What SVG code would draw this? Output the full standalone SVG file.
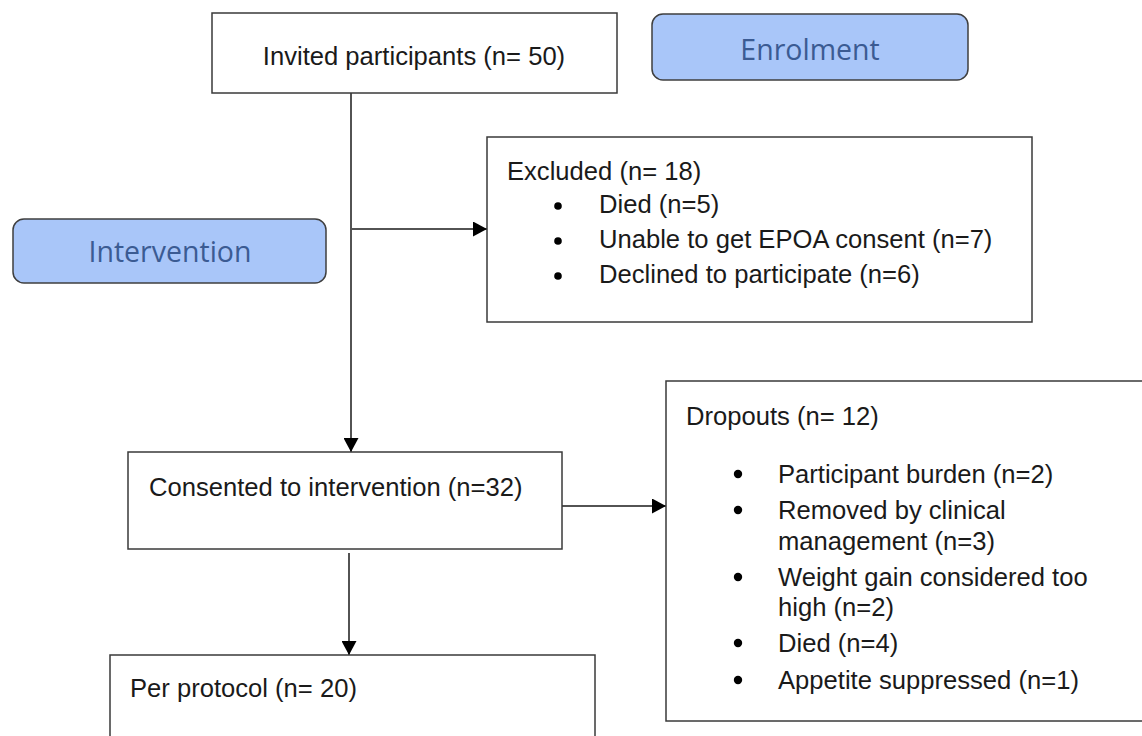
<svg xmlns="http://www.w3.org/2000/svg" width="1142" height="736" viewBox="0 0 1142 736">
  <style>
    .box { fill: #ffffff; stroke: #3a3a3a; stroke-width: 1.5; }
    .stage { fill: #a9c6f9; stroke: #3f3f3f; stroke-width: 1.5; }
    .t { font-family: "Liberation Sans", Arial, sans-serif; font-size: 25.6px; fill: #1a1a1a; }
    .st { font-family: "Open Sans", "Liberation Sans", sans-serif; font-size: 28.5px; fill: #3b5b93; }
    .conn { stroke: #1a1a1a; stroke-width: 1.5; fill: none; }
    .bul { fill: #000000; }
  </style>
  <defs>
    <marker id="arr" viewBox="0 0 14 15" refX="14" refY="7.5" markerWidth="14" markerHeight="15" markerUnits="userSpaceOnUse" orient="auto">
      <path d="M0,0 L14,7.5 L0,15 Z" fill="#000000"/>
    </marker>
  </defs>

  <g id="connectors">
    <line class="conn" x1="351" y1="93" x2="351" y2="452" marker-end="url(#arr)"/>
    <line class="conn" x1="352" y1="229" x2="487" y2="229" marker-end="url(#arr)"/>
    <line class="conn" x1="562" y1="506" x2="666" y2="506" marker-end="url(#arr)"/>
    <line class="conn" x1="349" y1="553" x2="349" y2="655" marker-end="url(#arr)"/>
  </g>

  <g id="invited">
    <rect class="box" x="212" y="13" width="405" height="80"/>
    <text class="t" x="414" y="65" text-anchor="middle">Invited participants (n= 50)</text>
  </g>

  <g id="enrolment">
    <rect class="stage" x="652" y="14" width="316" height="66" rx="11" ry="11"/>
    <text class="st" x="810" y="60" text-anchor="middle">Enrolment</text>
  </g>

  <g id="intervention">
    <rect class="stage" x="13" y="219" width="313" height="64" rx="11" ry="11"/>
    <text class="st" x="170" y="262" text-anchor="middle">Intervention</text>
  </g>

  <g id="excluded">
    <rect class="box" x="487" y="137" width="545" height="185"/>
    <text class="t" x="507" y="180">Excluded (n= 18)</text>
    <circle class="bul" cx="558" cy="206" r="3.8"/>
    <text class="t" x="599" y="213">Died (n=5)</text>
    <circle class="bul" cx="558" cy="241" r="3.8"/>
    <text class="t" x="599" y="248">Unable to get EPOA consent (n=7)</text>
    <circle class="bul" cx="558" cy="276" r="3.8"/>
    <text class="t" x="599" y="283">Declined to participate (n=6)</text>
  </g>

  <g id="consented">
    <rect class="box" x="128" y="452" width="434" height="97"/>
    <text class="t" x="149" y="496">Consented to intervention (n=32)</text>
  </g>

  <g id="dropouts">
    <rect class="box" x="666" y="381" width="490" height="340"/>
    <text class="t" x="686" y="425">Dropouts (n= 12)</text>
    <circle class="bul" cx="738" cy="474" r="4.2"/>
    <text class="t" x="778" y="483">Participant burden (n=2)</text>
    <circle class="bul" cx="738" cy="510" r="4.2"/>
    <text class="t" x="778" y="519">Removed by clinical</text>
    <text class="t" x="778" y="550">management (n=3)</text>
    <circle class="bul" cx="738" cy="577" r="4.2"/>
    <text class="t" x="778" y="586">Weight gain considered too</text>
    <text class="t" x="778" y="616">high (n=2)</text>
    <circle class="bul" cx="738" cy="643" r="4.2"/>
    <text class="t" x="778" y="652">Died (n=4)</text>
    <circle class="bul" cx="738" cy="680" r="4.2"/>
    <text class="t" x="778" y="689">Appetite suppressed (n=1)</text>
  </g>

  <g id="perprotocol">
    <rect class="box" x="110" y="655" width="485" height="100"/>
    <text class="t" x="130" y="697">Per protocol (n= 20)</text>
  </g>
</svg>
